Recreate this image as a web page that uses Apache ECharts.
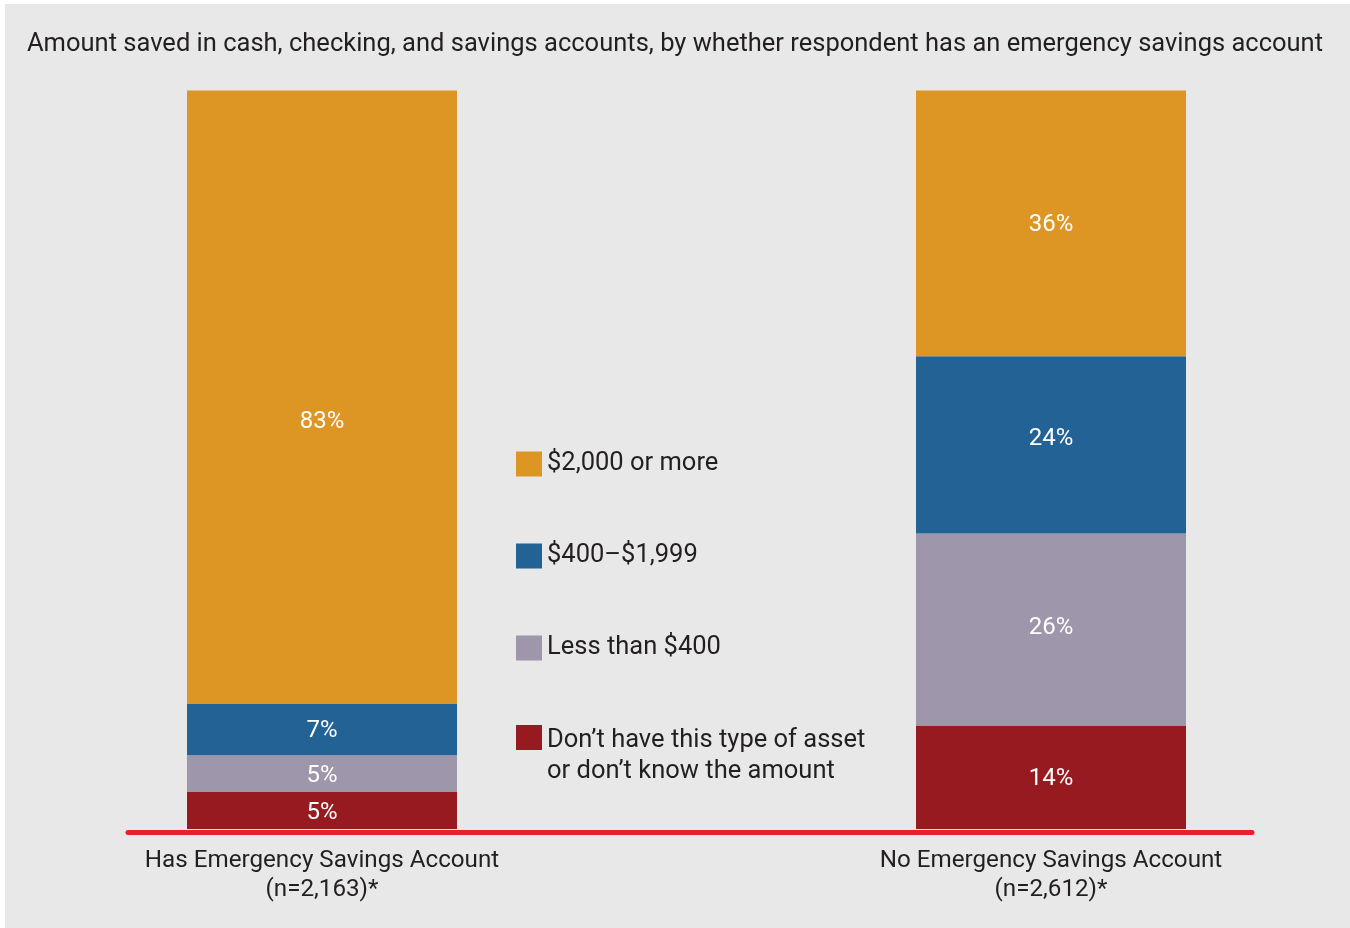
<!DOCTYPE html>
<html>
<head>
<meta charset="utf-8">
<title>Amount saved by emergency savings account status</title>
<script src="https://cdn.jsdelivr.net/npm/echarts@6/dist/echarts.min.js"></script>
<style>
  html, body { margin: 0; padding: 0; background: #ffffff; }
  #wrap { position: relative; width: 1350px; height: 928px; background: #ffffff; }
  #panel { position: absolute; left: 5px; top: 4px; right: 0; bottom: 0; background: #e8e8e8; }
  #chart { position: absolute; left: 0; top: 0; width: 1350px; height: 928px; }
</style>
</head>
<body>
<div id="wrap">
  <div id="panel"></div>
  <div id="chart"></div>
</div>
<script>
// Respondent groups
const groupNames = ['Has Emergency Savings Account', 'No Emergency Savings Account'];
const groupSizes = ['(n=2,163)*', '(n=2,612)*'];

// Savings brackets, top of the stack first
const bracketNames = [
  '$2,000 or more',
  '$400–$1,999',
  'Less than $400',
  'Don’t have this type of asset or don’t know the amount'
];

// Share of respondents (%) in each bracket, per group
const twoThousandOrMore = [83, 36];
const fourHundredTo1999 = [7, 24];
const lessThan400 = [5, 26];
const noneOrUnknown = [5, 14];

const bracketValues = [twoThousandOrMore, fourHundredTo1999, lessThan400, noneOrUnknown];
const bracketColors = ['#dd9624', '#226295', '#9e97ab', '#971a20'];

// Vertical label offsets (px) inside segments, keyed "bracket-group"
const labelShiftDefault = 2;
const labelShift = { '0-0': 25, '1-1': -6, '2-1': -2 };

const textDark = '#231f20';
const fontFamily = 'Roboto, "Open Sans", sans-serif';

// Build stacked series bottom-up: last bracket first
const series = [];
for (let b = bracketNames.length - 1; b >= 0; b--) {
  series.push({
    name: bracketNames[b],
    type: 'bar',
    stack: 'total',
    barWidth: 270,
    xAxisIndex: 0,
    yAxisIndex: 0,
    itemStyle: { color: bracketColors[b] },
    label: {
      show: true,
      position: 'inside',
      color: '#ffffff',
      fontFamily: fontFamily,
      fontSize: 24,
      formatter: p => p.value + '%'
    },
    emphasis: { disabled: true },
    data: bracketValues[b].map((v, i) => {
      const key = b + '-' + i;
      const dy = key in labelShift ? labelShift[key] : labelShiftDefault;
      return { value: v, label: { offset: [0, dy] } };
    })
  });
}

const legendText = {
  color: textDark,
  fontFamily: fontFamily,
  fontSize: 25.5,
  lineHeight: 30
};

const chart = echarts.init(document.getElementById('chart'), null, { renderer: 'canvas' });
chart.setOption({
  backgroundColor: 'transparent',
  animation: false,
  title: {
    text: 'Amount saved in cash, checking, and savings accounts, by whether respondent has an emergency savings account',
    left: 'center',
    top: 27,
    textStyle: {
      color: textDark,
      fontFamily: fontFamily,
      fontWeight: 'normal',
      fontSize: 25.5
    }
  },
  legend: [
    {
      data: bracketNames.slice(0, 3),
      orient: 'vertical',
      left: 516,
      top: 449,
      padding: 0,
      itemWidth: 26,
      itemHeight: 25,
      itemGap: 62,
      icon: 'rect',
      selectedMode: false,
      textStyle: legendText
    },
    {
      data: [bracketNames[3]],
      orient: 'vertical',
      left: 516,
      top: 688,
      padding: 0,
      itemWidth: 26,
      itemHeight: 25,
      icon: 'rect',
      selectedMode: false,
      // a spacer line on top keeps the swatch level with the first line of text
      formatter: name => {
        const parts = name.split(' or don’t know');
        return '{gap| }\n{t|' + parts[0] + '}\n{t|or don’t know' + parts[1] + '}';
      },
      textStyle: Object.assign({}, legendText, {
        rich: {
          gap: { fontSize: 10, lineHeight: 37 },
          t: { color: textDark, fontFamily: fontFamily, fontSize: 25.5, lineHeight: 31 }
        }
      })
    }
  ],
  grid: [
    // bars: the two groups sit on the grid edges, 729px apart
    { left: 322, right: 299, top: 90.5, bottom: 99, containLabel: false },
    // baseline rule under the bars
    { left: 128, right: 98, top: 90.5, bottom: 99, containLabel: false }
  ],
  xAxis: [
    {
      gridIndex: 0,
      type: 'category',
      data: groupNames,
      boundaryGap: false,
      axisLine: { show: false },
      axisTick: { show: false },
      axisLabel: {
        margin: 17,
        color: textDark,
        fontFamily: fontFamily,
        fontSize: 24.2,
        lineHeight: 29,
        formatter: (v, i) => v + '\n' + groupSizes[i]
      }
    },
    {
      gridIndex: 1,
      type: 'value',
      min: 0,
      max: 1,
      offset: 3,
      axisLine: { show: true, onZero: false, lineStyle: { color: '#e8202a', width: 5 } },
      axisTick: { show: false },
      axisLabel: { show: false },
      splitLine: { show: false }
    }
  ],
  yAxis: [
    { gridIndex: 0, type: 'value', min: 0, max: 100, show: false, splitLine: { show: false } },
    { gridIndex: 1, type: 'value', min: 0, max: 1, show: false, splitLine: { show: false } }
  ],
  series: series
});
</script>
</body>
</html>
